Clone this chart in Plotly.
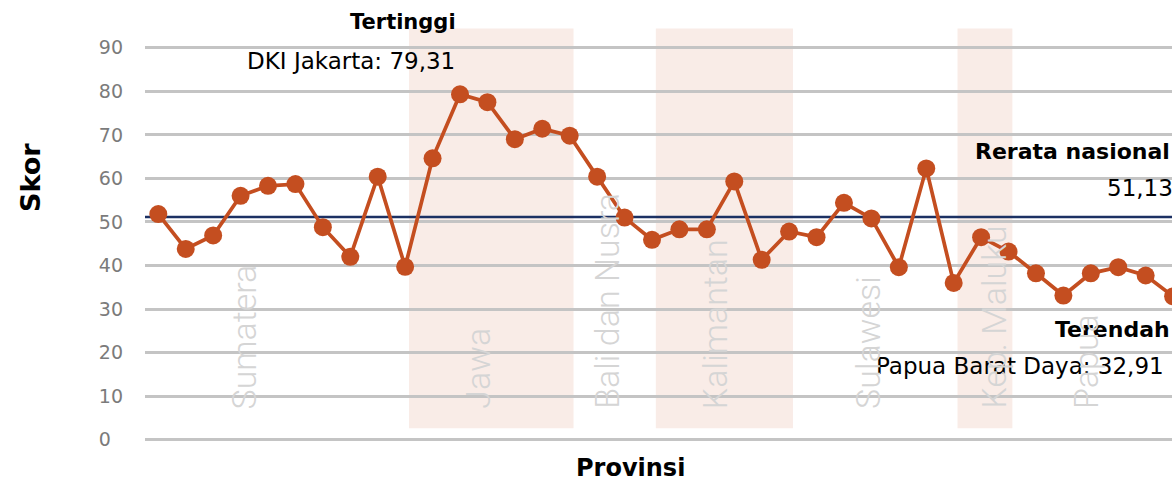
import plotly.graph_objects as go

# ---------------- data ----------------
regions = ["Sumatera", "Jawa", "Bali dan Nusra", "Kalimantan", "Sulawesi", "Kep. Maluku", "Papua"]
region_counts = [10, 6, 3, 5, 6, 2, 6]
provinces = [
    "Aceh", "Sumatera Utara", "Sumatera Barat", "Riau", "Jambi", "Sumatera Selatan",
    "Bengkulu", "Lampung", "Kep. Bangka Belitung", "Kep. Riau",
    "Banten", "DKI Jakarta", "Jawa Barat", "Jawa Tengah", "DI Yogyakarta", "Jawa Timur",
    "Bali", "Nusa Tenggara Barat", "Nusa Tenggara Timur",
    "Kalimantan Barat", "Kalimantan Tengah", "Kalimantan Selatan", "Kalimantan Timur", "Kalimantan Utara",
    "Sulawesi Utara", "Sulawesi Tengah", "Sulawesi Selatan", "Sulawesi Tenggara", "Gorontalo", "Sulawesi Barat",
    "Maluku", "Maluku Utara",
    "Papua Barat", "Papua", "Papua Selatan", "Papua Tengah", "Papua Pegunungan", "Papua Barat Daya",
]
scores = [
    51.8, 43.8, 46.9, 56.0, 58.3, 58.7, 48.8, 42.0, 60.4, 39.7,
    64.6, 79.31, 77.5, 69.0, 71.4, 69.8,
    60.4, 51.0, 45.9,
    48.3, 48.3, 59.3, 41.3, 47.8,
    46.5, 54.4, 50.8, 39.6, 62.3, 36.0,
    46.5, 43.2,
    38.2, 33.1, 38.2, 39.6, 37.7, 32.91,
]
national_avg = 51.13
shaded_regions = ["Jawa", "Kalimantan", "Kep. Maluku"]
y_tick_vals = [0, 10, 20, 30, 40, 50, 60, 70, 80, 90]
y_tick_text = ["0\u2007", "10", "20", "30", "40", "50", "60", "70", "80", "90"]

# ---------------- styling / layout helpers ----------------
LINE_COLOR = "#c44e20"
AVG_COLOR = "#1c3163"
BAND_COLOR = "#f9ece7"
GRID_COLOR = "#c4c4c4"
REGION_TXT = "#d5d5d5"
FONT = "DejaVu Sans"
X_RANGE = [-0.485, 36.96]
Y_RANGE = [-1, 95]

# region label positions (offset in category units from group start)
region_label_offset = [3.12, 1.66, 0.35, 1.3, 1.85, 0.47, 1.8]

fig = go.Figure()

fig.add_trace(go.Scatter(
    x=provinces, y=scores, mode="lines+markers",
    line=dict(color=LINE_COLOR, width=3.7),
    marker=dict(color=LINE_COLOR, size=18),
    showlegend=False, hoverinfo="x+y",
))

shapes = []
annotations = []

# shaded bands
start = 0
starts = []
for name, n in zip(regions, region_counts):
    starts.append(start)
    if name in shaded_regions:
        shapes.append(dict(type="rect", xref="x", yref="y",
                           x0=start - 0.86, x1=start + n - 1 + 0.14,
                           y0=2.6, y1=94.4, fillcolor=BAND_COLOR,
                           line=dict(width=0), layer="below"))
    start += n

# national average line (after bands so it is drawn over them)
shapes.append(dict(type="line", xref="x", yref="y", x0=X_RANGE[0], x1=X_RANGE[1],
                   y0=national_avg, y1=national_avg,
                   line=dict(color=AVG_COLOR, width=2.5), layer="below"))

# pixel helpers for annotations
L, W, T, H = 145, 1027, 26.25, 417.6
def px(x):
    return (x - L) / W
def py(y):
    return (T + H - y) / H

imax = scores.index(max(scores))
imin = scores.index(min(scores))
fmt = lambda v: f"{v:.2f}".replace(".", ",")

annotations += [
    dict(text="<b>Tertinggi</b>", xref="paper", yref="paper", x=px(458), y=py(22),
         xanchor="right", yanchor="middle", showarrow=False,
         font=dict(family=FONT, size=21, color="#000000")),
    dict(text=f"{provinces[imax]}: {fmt(scores[imax])}", xref="paper", yref="paper",
         x=px(457), y=py(61), xanchor="right", yanchor="middle", showarrow=False,
         font=dict(family=FONT, size=23, color="#000000")),
    dict(text="<b>Rerata nasional</b>", xref="paper", yref="paper", x=px(973), y=py(152),
         xanchor="left", yanchor="middle", showarrow=False,
         font=dict(family=FONT, size=22, color="#000000")),
    dict(text=fmt(national_avg), xref="paper", yref="paper", x=px(1105), y=py(188),
         xanchor="left", yanchor="middle", showarrow=False,
         font=dict(family=FONT, size=23, color="#000000")),
    dict(text="<b>Terendah</b>", xref="paper", yref="paper", x=px(1053), y=py(329),
         xanchor="left", yanchor="middle", showarrow=False,
         font=dict(family=FONT, size=22, color="#000000")),
    dict(text=f"{provinces[imin]}: {fmt(scores[imin])}", xref="paper", yref="paper",
         x=px(874), y=py(366), xanchor="left", yanchor="middle", showarrow=False,
         font=dict(family=FONT, size=23, color="#000000")),
    # axis titles
    dict(text="<b>Skor</b>", xref="paper", yref="paper", x=px(30.5), y=py(177.5),
         xanchor="center", yanchor="middle", textangle=-90, showarrow=False,
         font=dict(family=FONT, size=27, color="#000000")),
    dict(text="<b>Provinsi</b>", xref="paper", yref="paper", x=px(630), y=py(468),
         xanchor="center", yanchor="middle", showarrow=False,
         font=dict(family=FONT, size=24, color="#000000")),
]

# region labels (drawn last, on top)
for name, s, off in zip(regions, starts, region_label_offset):
    annotations.append(dict(text=name, xref="x", yref="paper", x=s + off, y=py(411),
                            xanchor="center", yanchor="bottom", textangle=-90,
                            showarrow=False,
                            font=dict(family="Roboto", size=34, color=REGION_TXT, weight=300)))

fig.update_layout(
    width=1172, height=481, autosize=False,
    margin=dict(l=145, r=0, t=26.25, b=37.15),
    paper_bgcolor="white", plot_bgcolor="white",
    shapes=shapes, annotations=annotations,
    xaxis=dict(type="category", range=X_RANGE, showgrid=False,
               showticklabels=False, zeroline=False, showline=False, ticks=""),
    yaxis=dict(range=Y_RANGE, tickmode="array", tickvals=y_tick_vals, ticktext=y_tick_text,
               showgrid=True, gridcolor=GRID_COLOR, gridwidth=2.5,
               zeroline=False, showline=False, ticks="", ticklabelstandoff=21,
               tickfont=dict(family=FONT, size=19, color="#7b7b7b")),
    showlegend=False,
)

fig.write_html(
    "out.html",
    config={"displayModeBar": False},
    post_script="document.body.style.margin='0';document.body.style.overflow='hidden';",
)
